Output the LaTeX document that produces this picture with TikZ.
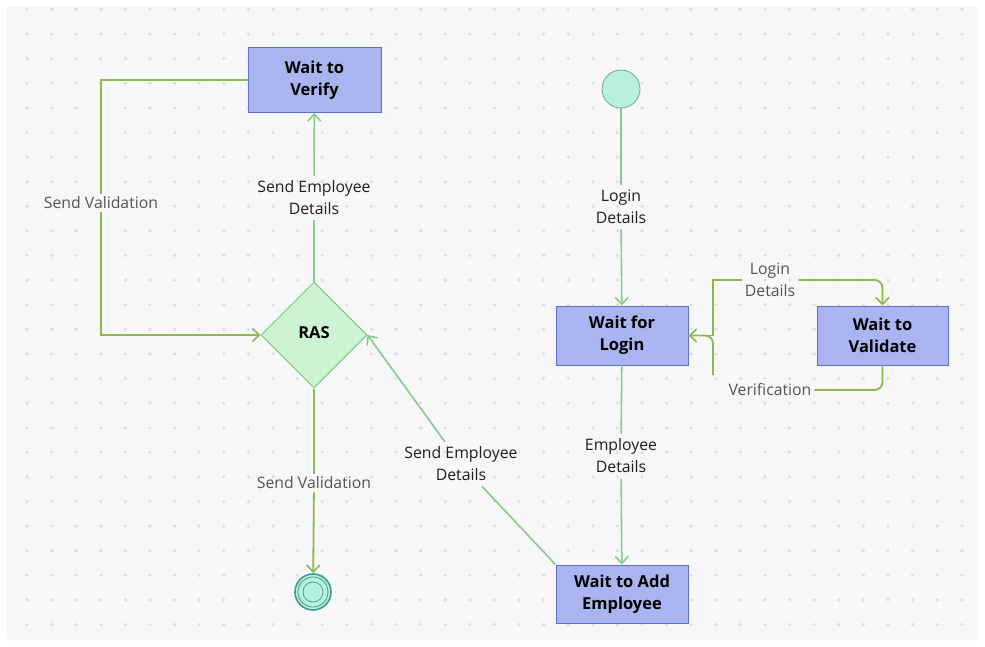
\documentclass[tikz,border=0pt]{standalone}
\usepackage{fontspec}
\setmainfont{Open Sans}
\usetikzlibrary{arrows.meta,shapes.geometric}

\definecolor{panel}{HTML}{F7F7FA}
\definecolor{dotc}{HTML}{DCDCE2}
\definecolor{boxfill}{HTML}{A9B4F1}
\definecolor{boxline}{HTML}{5C6FD8}
\definecolor{ddfill}{HTML}{CEF3D2}
\definecolor{ddline}{HTML}{7DC77F}
\definecolor{pinfill}{HTML}{B8F0E0}
\definecolor{pinline}{HTML}{7F9E99}
\definecolor{endline}{HTML}{3E9C8C}
\definecolor{lightflow}{HTML}{86CC86}
\definecolor{oliveflow}{HTML}{8DB84B}
\definecolor{ink}{HTML}{1E1E1E}
\definecolor{greyink}{HTML}{555555}

\begin{document}
\begin{tikzpicture}[x=1pt, y=-1pt,
        stage/.style={rectangle, draw=boxline, fill=boxfill, line width=0.9pt,
            font=\fontsize{16.5}{22}\selectfont\bfseries, text=black, align=center,
            minimum width=132pt, minimum height=59pt, inner sep=0pt},
        decide/.style={diamond, draw=ddline, fill=ddfill, line width=1pt,
            font=\fontsize{16.5}{22}\selectfont\bfseries, text=black,
            minimum width=106pt, minimum height=106pt, inner sep=0pt},
        startdot/.style={circle, draw=pinline, fill=pinfill, line width=0.8pt,
            minimum size=38pt, inner sep=0pt},
        stopdot/.style={circle, draw=endline, fill=pinfill, line width=1.6pt,
            minimum size=36pt, inner sep=0pt},
        lbl/.style={font=\fontsize{15.8}{22}\selectfont, align=center,
            inner sep=5pt, text=ink},
        greylbl/.style={lbl, text=greyink},
        flowA/.style={draw=lightflow, line width=1.6pt},
        flowB/.style={draw=oliveflow, line width=1.8pt},
        tip/.style={-{Straight Barb[length=7pt, width=13pt, line width=1.6pt]}}]

    \useasboundingbox (0,0) rectangle (985,647);
    \fill[white] (0,0) rectangle (985,647);
    \fill[panel, rounded corners=2pt] (7,7) rectangle (978,640);
    \foreach \i in {0,...,38}
        \foreach \j in {0,...,25}
            \fill[dotc] (27+24.6*\i, 9.5+24.6*\j) circle (1.7pt);

    % states
    \node[stage, minimum width=133pt, minimum height=65pt] (verify) at (314.5,80)
        {\raisebox{4pt}{\begin{tabular}{@{}c@{}}Wait to\\Verify\end{tabular}}};
    \node[decide] (ras) at (314,335) {\raisebox{5pt}{RAS}};
    \node[stopdot] (stop) at (313,592) {};
    \draw[endline, line width=0.8pt] (stop.center) circle (15pt);
    \draw[endline, line width=0.7pt] (stop.center) circle (10pt);
    \node[startdot] (begin) at (621,89) {};
    \node[stage] (login) at (622,335.5) {Wait for\\Login};
    \node[stage, minimum width=131pt] (validate) at (882.5,335.5) {Wait to\\Validate};
    \node[stage, minimum height=58pt] (addemp) at (622,594) {Wait to Add\\Employee};

    % labels
    \node[lbl] (lLogin) at (621,207) {Login\\Details};
    \node[lbl] (lEmp) at (621,456) {Employee\\Details};
    \node[lbl] (lSendA) at (461,464) {Send Employee\\Details};
    \node[lbl] (lSendB) at (314,198) {Send Employee\\Details};
    \node[greylbl, inner sep=3pt] (lValA) at (101,203) {Send Validation};
    \node[greylbl, inner sep=3pt] (lValB) at (314,483) {Send Validation};
    \node[greylbl, inner sep=3pt] (lLogR) at (770,280) {Login\\Details};
    \node[greylbl, inner sep=3pt] (lVer) at (770,390) {Verification};

    \coordinate (jn) at (713,335.5);
    \coordinate (jlow) at (713,375);

    % connectors
    \draw[flowA] (begin) -- (lLogin);
    \draw[flowA, tip] (lLogin) -- (login);
    \draw[flowA] (login) -- (lEmp);
    \draw[flowA, tip] (lEmp) -- (addemp);
    \draw[flowA] (addemp.north west) -- (lSendA);
    \draw[flowA, tip] (lSendA) -- (ras.east);
    \draw[flowA] (ras.north) -- (lSendB);
    \draw[flowA, tip] (lSendB) -- (verify);
    \draw[flowB] (verify.west) -| (lValA);
    \draw[flowB, tip] (lValA) |- (ras.west);
    \draw[flowB] (ras.south) -- (lValB);
    \draw[flowB, tip] (lValB) -- (stop);
    \draw[flowB] (login.east) -- (jn) |- (lLogR);
    \draw[flowB, tip, rounded corners=8pt] (lLogR) -| (validate.north);
    \draw[flowB, rounded corners=8pt] (validate.south) |- (lVer);
    \draw[flowB, tip, rounded corners=8pt] (jlow) |- (login.east);
\end{tikzpicture}
\end{document}
